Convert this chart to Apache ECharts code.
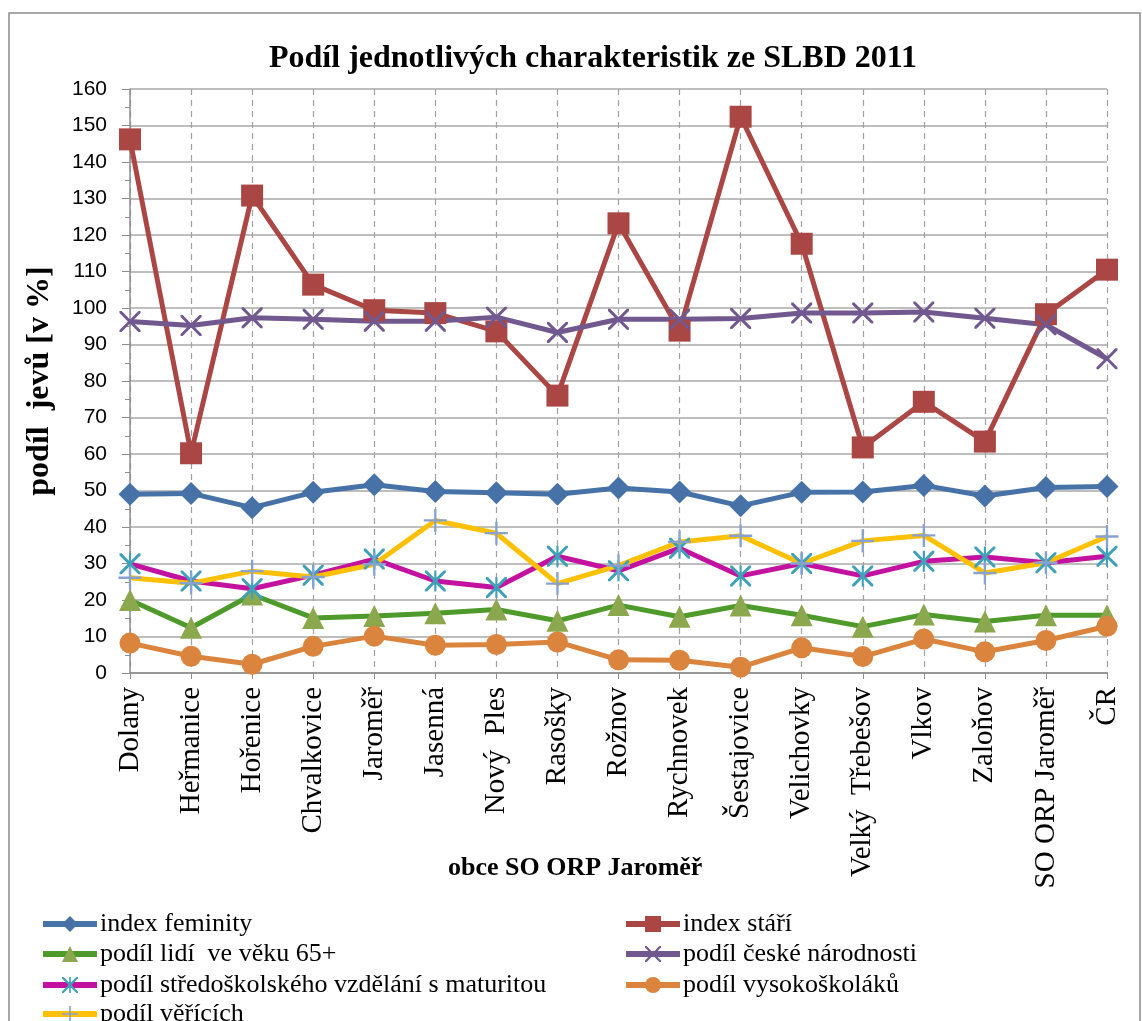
<!DOCTYPE html>
<html><head><meta charset="utf-8">
<script src="https://cdn.jsdelivr.net/npm/echarts@6/dist/echarts.min.js"></script>
<style>html,body{margin:0;padding:0;background:#fff}#c{width:1142px;height:1021px}</style>
</head><body><div id="c"></div>
<script>
const categories = ['Dolany','Heřmanice','Hořenice','Chvalkovice','Jaroměř','Jasenná','Nový  Ples','Rasošky','Rožnov','Rychnovek','Šestajovice','Velichovky','Velký  Třebešov','Vlkov','Zaloňov','SO ORP Jaroměř','ČR'];
const indexFeminity = [49.0,49.2,45.3,49.5,51.6,49.7,49.4,49.0,50.7,49.6,45.8,49.5,49.6,51.4,48.5,50.8,51.1];
const indexStari = [146.2,60.2,130.8,106.4,99.4,98.6,93.6,76.0,123.2,93.8,152.4,117.6,61.8,74.3,63.4,98.3,110.5];
const podil65 = [20.0,12.4,21.5,15.1,15.6,16.4,17.4,14.3,18.6,15.4,18.5,15.8,12.7,16.0,14.1,15.8,15.8];
const podilNarodnost = [96.3,95.2,97.3,96.9,96.4,96.4,97.5,93.3,96.9,96.9,97.1,98.6,98.6,98.9,97.2,95.4,86.1];
const podilSS = [29.9,25.2,23.1,26.8,31.2,25.2,23.4,32.0,28.0,34.2,26.6,30.0,26.6,30.6,31.8,30.2,32.0];
const podilVS = [8.2,4.6,2.4,7.3,10.1,7.6,7.8,8.5,3.6,3.5,1.6,6.9,4.5,9.3,5.8,8.9,12.8];
const podilVerici = [26.1,24.6,27.9,26.3,29.8,41.8,38.3,24.5,29.4,35.9,37.6,30.0,36.2,37.7,27.4,30.2,37.4];
const yTicks = {min:0,max:160,interval:10};
const legendLeftCol = ['index feminity','podíl lidí  ve věku 65+','podíl středoškolského vzdělání s maturitou','podíl věřících'];
const legendRightCol = ['index stáří','podíl české národnosti','podíl vysokoškoláků'];

const SYM_X = 'path://M0,0 L2,0 L10,8 L18,0 L20,0 L20,2 L12,10 L20,18 L20,20 L18,20 L10,12 L2,20 L0,20 L0,18 L8,10 L0,2 Z';
const SYM_AST = 'path://M0,0 L2,0 L9,7 L9,0 L11,0 L11,7 L18,0 L20,0 L20,2 L12,10 L20,18 L20,20 L18,20 L11,13 L11,20 L9,20 L9,13 L2,20 L0,20 L0,18 L8,10 L0,2 Z';
const SYM_PLUS = 'path://M9,0 L11,0 L11,9 L20,9 L20,11 L11,11 L11,20 L9,20 L9,11 L0,11 L0,9 L9,9 Z';

function ser(name, data, lineColor, markColor, symbol, size){
  return {name, type:'line', data, symbol, symbolSize:size, showAllSymbol:true,
    lineStyle:{color:lineColor,width:5}, itemStyle:{color:markColor,borderWidth:0}, emphasis:{disabled:true}};
}
const serif = '"Liberation Serif","Times New Roman",serif';
const rowTops = [911, 941, 972, 1001];
const legends = [];
legendLeftCol.forEach((n,i)=>legends.push({data:[n], left:40, top:rowTops[i]}));
legendRightCol.forEach((n,i)=>legends.push({data:[n], left:623, top:rowTops[i]}));
legends.forEach(l=>{Object.assign(l,{orient:'horizontal', itemWidth:54, itemHeight:20, itemGap:4,
  lineStyle:{width:6}, selectedMode:false, padding:0,
  textStyle:{fontFamily:serif,fontSize:26,color:'#000',padding:[0,0,0,-2]}});});

const chart = echarts.init(document.getElementById('c'), null, {renderer:'canvas'});
chart.setOption({
  animation:false,
  backgroundColor:'#fff',
  title:{text:'Podíl jednotlivých charakteristik ze SLBD 2011', left:588, top:38, textAlign:'center',
    textStyle:{fontFamily:serif,fontWeight:'bold',fontSize:32,color:'#000'}},
  graphic:[
    {type:'rect', shape:{x:9,y:13,width:1131,height:1020}, style:{fill:'none',stroke:'#8c8c8c',lineWidth:1.5}, silent:true},
    {type:'text', left:448, top:855, style:{text:'obce SO ORP Jaroměř', font:'bold 26px '+serif, fill:'#000'}}
  ],
  grid:{left:130,right:35,top:89,bottom:348},
  xAxis:{type:'category', data:categories, boundaryGap:false,
    axisLine:{lineStyle:{color:'#8c8c8c',width:1.5}},
    axisTick:{show:true,alignWithLabel:true,length:6,lineStyle:{color:'#8c8c8c'}},
    axisLabel:{rotate:90,interval:0,margin:14,fontFamily:serif,fontSize:29,color:'#000'},
    splitLine:{show:true,lineStyle:{color:'#a0a0a0',type:[6,5],width:1.2}}},
  yAxis:{type:'value', min:yTicks.min, max:yTicks.max, interval:yTicks.interval,
    name:'podíl  jevů [v %]', nameLocation:'middle', nameGap:74,
    nameTextStyle:{fontFamily:serif,fontWeight:'bold',fontSize:32,color:'#000'},
    axisLine:{show:true,lineStyle:{color:'#8c8c8c',width:1.5}},
    axisTick:{show:true,length:8,lineStyle:{color:'#8c8c8c'}},
    minorTick:{show:true,splitNumber:2,length:5,lineStyle:{color:'#8c8c8c'}},
    axisLabel:{margin:23,fontFamily:'"Liberation Sans","Open Sans",sans-serif',fontSize:21,color:'#000'},
    splitLine:{show:true,lineStyle:{color:'#a8a8a8',width:1.5}}},
  legend:legends,
  series:[
    ser('index feminity', indexFeminity, '#4672A8', '#4672A8', 'diamond', 23),
    ser('index stáří', indexStari, '#AA4643', '#AA4643', 'rect', 22),
    ser('podíl lidí  ve věku 65+', podil65, '#4E9A2A', '#8BA84E', 'triangle', 22),
    ser('podíl české národnosti', podilNarodnost, '#71588F', '#71588F', SYM_X, 21),
    ser('podíl středoškolského vzdělání s maturitou', podilSS, '#C412A0', '#3FA0B8', SYM_AST, 21),
    ser('podíl vysokoškoláků', podilVS, '#DB843D', '#DB843D', 'circle', 21),
    ser('podíl věřících', podilVerici, '#FFC000', '#86A2D2', SYM_PLUS, 23)
  ]
});
</script></body></html>
